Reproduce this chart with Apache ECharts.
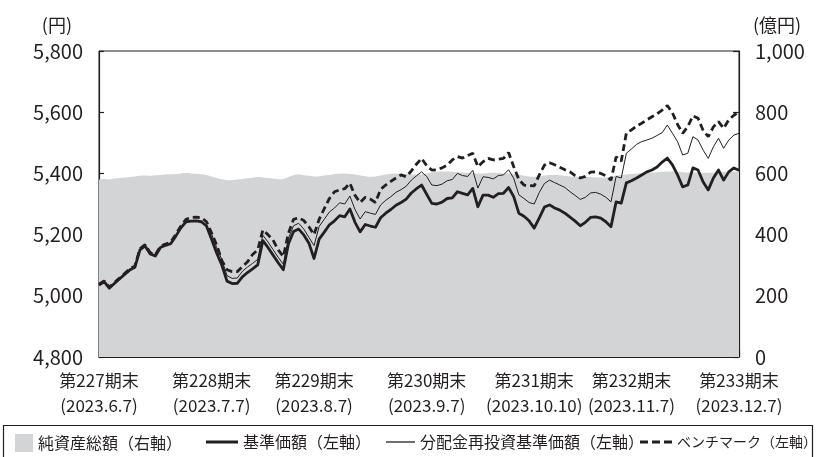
<!DOCTYPE html>
<html><head><meta charset="utf-8">
<script src="https://cdn.jsdelivr.net/npm/echarts@6/dist/echarts.min.js"></script>
<style>html,body{margin:0;padding:0;background:#fff}#c{width:816px;height:457px}</style>
</head><body><div id="c"></div>
<script>
const categories = [
'2023/6/7','2023/6/8','2023/6/9','2023/6/12','2023/6/13','2023/6/14','2023/6/15','2023/6/16','2023/6/19','2023/6/20','2023/6/21','2023/6/22','2023/6/23','2023/6/26','2023/6/27','2023/6/28','2023/6/29','2023/6/30',
'2023/7/3','2023/7/4','2023/7/5','2023/7/6','2023/7/7','2023/7/10','2023/7/11','2023/7/12','2023/7/13','2023/7/14','2023/7/18','2023/7/19','2023/7/20','2023/7/21','2023/7/24','2023/7/25','2023/7/26','2023/7/27','2023/7/28','2023/7/31',
'2023/8/1','2023/8/2','2023/8/3','2023/8/4','2023/8/7','2023/8/8','2023/8/9','2023/8/10','2023/8/14','2023/8/15','2023/8/16','2023/8/17','2023/8/18','2023/8/21','2023/8/22','2023/8/23','2023/8/24','2023/8/25','2023/8/28','2023/8/29','2023/8/30','2023/8/31',
'2023/9/1','2023/9/4','2023/9/5','2023/9/6','2023/9/7','2023/9/8','2023/9/11','2023/9/12','2023/9/13','2023/9/14','2023/9/15','2023/9/19','2023/9/20','2023/9/21','2023/9/22','2023/9/25','2023/9/26','2023/9/27','2023/9/28','2023/9/29',
'2023/10/2','2023/10/3','2023/10/4','2023/10/5','2023/10/6','2023/10/10','2023/10/11','2023/10/12','2023/10/13','2023/10/16','2023/10/17','2023/10/18','2023/10/19','2023/10/20','2023/10/23','2023/10/24','2023/10/25','2023/10/26','2023/10/27','2023/10/30','2023/10/31',
'2023/11/1','2023/11/2','2023/11/6','2023/11/7','2023/11/8','2023/11/9','2023/11/10','2023/11/13','2023/11/14','2023/11/15','2023/11/16','2023/11/17','2023/11/20','2023/11/21','2023/11/22','2023/11/24','2023/11/27','2023/11/28','2023/11/29','2023/11/30',
'2023/12/1','2023/12/4','2023/12/5','2023/12/6','2023/12/7'];

const periodDates = ['2023/6/7','2023/7/7','2023/8/7','2023/9/7','2023/10/10','2023/11/7','2023/12/7'];
const periodNames = ['第227期末','第228期末','第229期末','第230期末','第231期末','第232期末','第233期末'];
const periodDateLabels = ['(2023.6.7)','(2023.7.7)','(2023.8.7)','(2023.9.7)','(2023.10.10)','(2023.11.7)','(2023.12.7)'];

const leftTicks = [4800, 5000, 5200, 5400, 5600, 5800];
const rightTicks = [0, 200, 400, 600, 800, 1000];

const seriesNames = ['純資産総額（右軸）','基準価額（左軸）','分配金再投資基準価額（左軸）','ベンチマーク（左軸）'];

const netAssets = [
580,582,580,583,585,587,588,590,592,593,
592,594,595,596,597,598,600,601,600,599,
597,595,590,585,581,578,578,580,582,584,
586,588,587,585,583,581,582,588,594,596,
594,592,590,591,593,595,598,599,600,598,
596,593,591,589,590,593,596,599,600,599,
598,597,596,597,600,603,605,606,606,605,
604,603,602,601,600,600,601,602,601,600,
600,599,596,592,590,589,590,593,595,595,
594,592,590,589,589,588,588,587,587,587,
588,593,594,596,598,600,601,602,603,604,
605,606,606,605,604,603,603,603,602,602,
603,604,605,605,606,606];

const basePrice = [
5035,5046,5025,5040,5055,5070,5084,5093,5150,5163,
5137,5130,5158,5165,5170,5195,5222,5242,5244,5245,
5242,5228,5184,5139,5100,5048,5040,5041,5062,5076,
5088,5101,5180,5158,5133,5108,5085,5170,5210,5218,
5199,5172,5122,5185,5208,5232,5245,5262,5258,5284,
5240,5209,5233,5228,5224,5255,5270,5282,5296,5305,
5316,5336,5350,5362,5332,5302,5300,5306,5318,5320,
5340,5335,5330,5351,5291,5329,5329,5322,5334,5335,
5354,5324,5270,5260,5245,5221,5255,5290,5297,5287,
5280,5270,5257,5244,5229,5240,5256,5258,5254,5242,
5226,5307,5303,5369,5376,5385,5395,5405,5411,5421,
5437,5450,5428,5395,5356,5362,5418,5411,5372,5346,
5385,5411,5378,5405,5418,5410];

const reinvested = [
5035,5046,5025,5040,5055,5070,5084,5093,5150,5163,
5137,5130,5158,5165,5170,5195,5222,5242,5244,5245,
5242,5228,
5202,5157,5118,5066,5057,5058,5080,5094,
5106,5119,5198,5176,5151,5126,5103,5188,5229,5237,
5218,5191,
5164,5227,5250,5274,5287,5304,5300,5326,
5282,5251,5275,5270,5266,5297,5312,5324,5338,5347,
5358,5378,5392,5405,
5390,5362,5360,5365,5376,5380,
5400,5393,5390,5410,5352,5389,5387,5382,5393,5395,
5412,5384,5330,5318,5305,
5300,5338,5367,5378,5370,
5362,5354,5340,5328,5315,5322,5336,5338,5332,5322,
5307,5390,5385,5466,
5480,5495,5504,5509,5515,5524,
5533,5558,5531,5504,5460,5466,5520,5509,5476,5449,
5487,5515,5482,5509,5525,5531];

const benchmark = [
5038,5049,5028,5043,5058,5073,5088,5097,5154,5167,
5141,5134,5162,5169,5175,5201,5228,5250,5256,5257,
5255,5242,
5205,5165,5115,5085,5079,5079,5095,5111,5135,5150,
5215,5200,5182,5150,5128,5205,5250,5255,5246,5226,
5200,5250,5285,5318,5340,5346,5350,5368,5328,5305,
5322,5316,5305,5348,5362,5374,5385,5395,5389,5408,
5430,5449,
5425,5411,5412,5418,5427,5444,5455,5450,5458,5466,
5422,5438,5449,5444,5446,5449,5468,5422,5380,5362,
5360,
5359,5395,5427,5435,5428,5420,5412,5405,5393,5385,
5390,5404,5405,5400,5392,5378,5454,5440,5532,
5542,5555,5564,5575,5585,5595,5607,5622,5598,5560,
5531,5553,5588,5580,5540,5520,5552,5569,5547,5575,
5590,5602];

const FONT = '"Noto Sans CJK JP", "Noto Sans", sans-serif';
const INK = '#231f20';
const GREY = '#d3d4d6';
const comma = v => String(v).replace(/\B(?=(\d{3})+(?!\d))/g, ',');
const isPeriod = (idx) => periodDates.indexOf(categories[idx]) >= 0;
const legendText = (size) => ({fontFamily: FONT, fontSize: size, color: INK});

const chart = echarts.init(document.getElementById('c'), null, {renderer: 'canvas'});
chart.setOption({
  animation: false,
  textStyle: {fontFamily: FONT, color: INK},
  grid: {left: 99, right: 77, top: 51, bottom: 100, show: true, borderColor: INK, borderWidth: 1, backgroundColor: 'transparent'},
  legend: [
    {data: [seriesNames[0]], left: 10, top: 429, itemWidth: 18, itemHeight: 18, icon: 'rect', selectedMode: false,
     itemStyle: {borderWidth: 0}, textStyle: legendText(16)},
    {data: [seriesNames[1]], left: 201, top: 429, itemWidth: 32, itemHeight: 3, icon: 'rect', selectedMode: false,
     itemStyle: {borderWidth: 0}, textStyle: legendText(16)},
    {data: [seriesNames[2]], left: 381, top: 429, itemWidth: 29, itemHeight: 1.3, icon: 'rect', selectedMode: false,
     itemStyle: {borderWidth: 0}, textStyle: legendText(16)},
    {data: [seriesNames[3]], left: 635, top: 430, itemWidth: 32, itemHeight: 3,
     icon: 'path://M0,0h8v3h-8zM12,0h8v3h-8zM24,0h8v3h-8z', selectedMode: false,
     itemStyle: {borderWidth: 0}, textStyle: legendText(14)}
  ],
  graphic: [{type: 'rect', shape: {x: 3.5, y: 425.5, width: 809, height: 40}, style: {fill: 'none', stroke: INK, lineWidth: 1.2}, silent: true}],
  xAxis: {
    type: 'category', data: categories, boundaryGap: false,
    axisLine: {lineStyle: {color: INK, width: 1.2}},
    axisTick: {inside: true, length: 6, interval: isPeriod, lineStyle: {color: INK, width: 1.2}},
    axisLabel: {
      interval: isPeriod, margin: 11, fontSize: 17, lineHeight: 25, color: INK, fontFamily: FONT,
      formatter: (v) => { const k = periodDates.indexOf(v); return k >= 0 ? periodNames[k] + '\n' + periodDateLabels[k] : ''; }
    },
    splitLine: {show: false}
  },
  yAxis: [
    {type: 'value', min: leftTicks[0], max: leftTicks[leftTicks.length - 1], interval: 200, position: 'left',
     name: '(円)', nameLocation: 'end', nameGap: 17,
     nameTextStyle: {fontSize: 18, color: INK, fontFamily: FONT, align: 'right', padding: [0, 27, 0, 0]},
     axisLine: {show: true, lineStyle: {color: INK, width: 1.2}},
     axisTick: {show: true, inside: true, length: 5, lineStyle: {color: INK, width: 1.2}},
     axisLabel: {fontSize: 20, margin: 16, color: INK, fontFamily: FONT, formatter: comma},
     splitLine: {show: false}},
    {type: 'value', min: rightTicks[0], max: rightTicks[rightTicks.length - 1], interval: 200, position: 'right',
     name: '(億円)', nameLocation: 'end', nameGap: 17,
     nameTextStyle: {fontSize: 18, color: INK, fontFamily: FONT, align: 'left', padding: [0, 0, 0, 14]},
     axisLine: {show: true, lineStyle: {color: INK, width: 1.2}},
     axisTick: {show: true, inside: true, length: 6, lineStyle: {color: INK, width: 1.2}},
     axisLabel: {fontSize: 20, margin: 16, color: INK, fontFamily: FONT, formatter: comma},
     splitLine: {show: false}}
  ],
  series: [
    {name: seriesNames[0], type: 'line', yAxisIndex: 1, data: netAssets, symbol: 'none', smooth: 0.3,
     color: GREY, lineStyle: {width: 0, color: GREY}, areaStyle: {color: GREY, opacity: 1}, z: 1},
    {name: seriesNames[1], type: 'line', yAxisIndex: 0, data: basePrice, symbol: 'none',
     color: INK, lineStyle: {width: 2.8, color: INK, join: 'round'}, z: 4},
    {name: seriesNames[2], type: 'line', yAxisIndex: 0, data: reinvested, symbol: 'none',
     color: INK, lineStyle: {width: 1, color: INK}, z: 3},
    {name: seriesNames[3], type: 'line', yAxisIndex: 0, data: benchmark, symbol: 'none',
     color: INK, lineStyle: {width: 2.8, color: INK, type: [7, 4]}, z: 3}
  ]
});
</script></body></html>
